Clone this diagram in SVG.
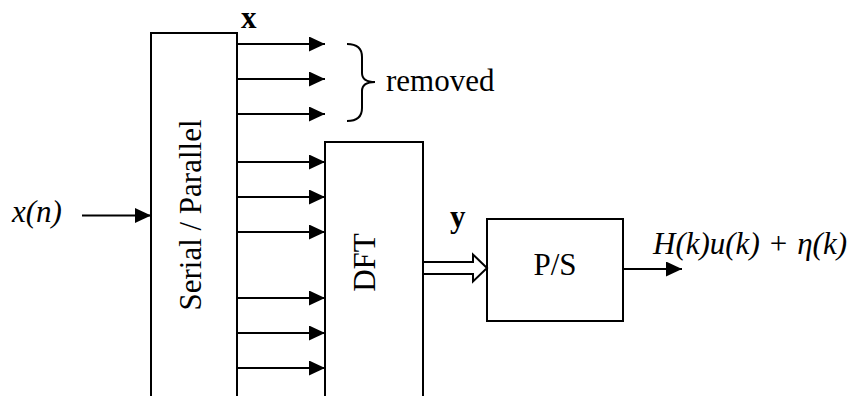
<svg xmlns="http://www.w3.org/2000/svg" width="859" height="396" viewBox="0 0 859 396">
<style>
.box{fill:#fff;stroke:#000;stroke-width:2}
.ln{fill:none;stroke:#000;stroke-width:2}
.t{font-family:"Liberation Serif","Times New Roman","DejaVu Serif",serif;font-size:31px;fill:#000}
.i{font-style:italic}
.b{font-weight:bold}
</style>
<defs>
<marker id="ah" markerUnits="userSpaceOnUse" markerWidth="16" markerHeight="15" refX="16" refY="7.5" orient="auto">
<path d="M0,0 L16,7.5 L0,15 z" fill="#000"/>
</marker>
</defs>
<rect width="859" height="396" fill="#fff"/>
<g id="sp">
<path class="ln" d="M151,400 V33 H237 V400"/>
<text class="t" transform="translate(201,215) rotate(-90)" text-anchor="middle">Serial / Parallel</text>
</g>
<g id="dft">
<path class="ln" d="M325,400 V142 H423 V400"/>
<text class="t" transform="translate(375,262.5) rotate(-90)" text-anchor="middle">DFT</text>
</g>
<g id="ps">
<rect class="box" x="487" y="219" width="136" height="102"/>
<text class="t" x="555" y="275" text-anchor="middle">P/S</text>
</g>
<g id="labels">
<text class="t i" x="12" y="222">x(n)</text>
<text class="t b" x="241" y="27.5">x</text>
<text class="t b" x="450" y="227">y</text>
<text class="t" x="386" y="91">removed</text>
<text class="t i" x="653" y="254">H(k)u(k)<tspan dx="10" font-style="normal">+</tspan><tspan dx="10">η(k)</tspan></text>
<path id="brace" class="ln" d="M347,44 Q362,44 362,57 L362,73 Q362,82 375,82 Q362,82 362,91 L362,108 Q362,121 347,121"/>
</g>
<g id="connectors">
<line class="ln" x1="82" y1="215.5" x2="151" y2="215.5" marker-end="url(#ah)"/>
<line class="ln" x1="237" y1="44" x2="325" y2="44" marker-end="url(#ah)"/>
<line class="ln" x1="237" y1="79" x2="325" y2="79" marker-end="url(#ah)"/>
<line class="ln" x1="237" y1="114" x2="325" y2="114" marker-end="url(#ah)"/>
<line class="ln" x1="237" y1="162" x2="325" y2="162" marker-end="url(#ah)"/>
<line class="ln" x1="237" y1="197" x2="325" y2="197" marker-end="url(#ah)"/>
<line class="ln" x1="237" y1="232" x2="325" y2="232" marker-end="url(#ah)"/>
<line class="ln" x1="237" y1="298" x2="325" y2="298" marker-end="url(#ah)"/>
<line class="ln" x1="237" y1="333" x2="325" y2="333" marker-end="url(#ah)"/>
<line class="ln" x1="237" y1="368" x2="325" y2="368" marker-end="url(#ah)"/>
<polygon class="box" points="423,262 473,262 473,254.5 487,268 473,281.5 473,274 423,274"/>
<line class="ln" x1="623" y1="269" x2="682" y2="269" marker-end="url(#ah)"/>
</g>
</svg>
